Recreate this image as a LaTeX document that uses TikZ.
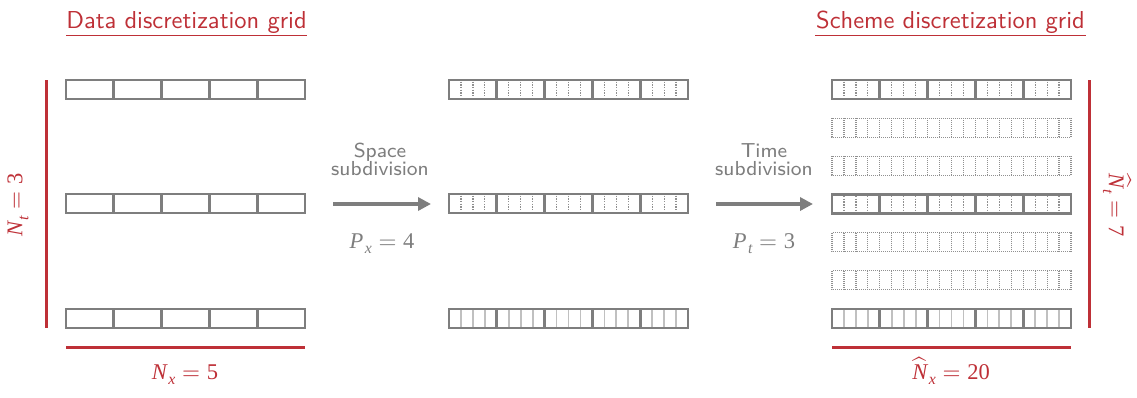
\documentclass[tikz,border=0pt]{standalone}
\usepackage{fontspec}
\newfontfamily\tnr{Liberation Serif}
\usetikzlibrary{arrows.meta}
\definecolor{dred}{HTML}{BE3037}
\definecolor{fgray}{HTML}{7E7E7E}
\definecolor{dgray}{HTML}{909090}
\definecolor{lgray}{HTML}{C0C0C0}
\newcommand\sx[1]{\scalebox{2.5}{#1}}
\newcommand\mv[2]{{\tnr\itshape #1}\kern0.6pt\raisebox{-0.6ex}{\fontsize{6.3}{7}\selectfont\tnr\itshape #2}}
\newcommand\meq[1]{\kern2.7pt$=$\kern2.7pt{\tnr #1}}
\tikzset{
  frame/.style={draw=fgray,line width=2.7pt},
  subdot/.style={draw=dgray,line width=1.2pt,dash pattern=on 1.4pt off 1.3pt},
  subsolid/.style={draw=lgray,line width=1.7pt},
  alldot/.style={draw=dgray,line width=1.2pt,dash pattern=on 1pt off 1pt},
  redline/.style={draw=dred,line width=3pt},
  titletxt/.style={text=dred,font=\sffamily\fontsize{9.8}{12}\selectfont,anchor=base,inner sep=0pt},
  graytxt/.style={text=fgray,font=\sffamily\fontsize{8.1}{9}\selectfont,anchor=base,inner sep=0pt},
  mathred/.style={text=dred,font=\fontsize{9}{10}\selectfont,inner sep=0pt},
  mathgray/.style={text=fgray,font=\fontsize{9}{10}\selectfont,inner sep=0pt,anchor=base},
  bigarrow/.style={draw=fgray,line width=4pt,-{Triangle[length=13pt,width=13pt]}}
}
% plain row: #1 = left x, #2 = top y
\newcommand\rowA[2]{%
  \draw[frame] (#1,-#2) rectangle ++(239,-19);
  \foreach \i in {1,...,4} \draw[frame] ({#1+47.8*\i},-#2) -- ++(0,-19);}
\newcommand\rowB[2]{%
  \foreach \j in {1,2,3,5,6,7,9,10,11,13,14,15,17,18,19}
    \draw[subdot] ({#1+11.95*\j},{-#2-1.5}) -- ++(0,-16);
  \rowA{#1}{#2}}
\newcommand\rowC[2]{%
  \foreach \j in {1,2,3,5,6,7,9,10,11,13,14,15,17,18,19}
    \draw[subsolid] ({#1+11.95*\j},-#2) -- ++(0,-19);
  \rowA{#1}{#2}}
\newcommand\rowD[2]{%
  \draw[alldot] (#1,-#2) rectangle ++(239,-19);
  \foreach \j in {1,...,19}
    \draw[alldot] ({#1+11.95*\j},-#2) -- ++(0,-19);}
\begin{document}
\begin{tikzpicture}[x=1pt,y=1pt]
\useasboundingbox (0,0) rectangle (1137,-397);
% titles
\node[titletxt] (t1) at (186.5,-28) {\sx{Data discretization grid}};
\draw[dred,line width=1.5pt] (66,-35.5) -- (307,-35.5);
\node[titletxt] (t2) at (950.5,-28) {\sx{Scheme discretization grid}};
\draw[dred,line width=1.5pt] (815,-35.5) -- (1086,-35.5);
% left grid
\rowA{66}{80}
\rowA{66}{194}
\rowA{66}{309}
% middle grid
\rowB{449}{80}
\rowB{449}{194}
\rowC{449}{309}
% right grid
\rowB{832}{80}
\rowD{832}{118.2}
\rowD{832}{156.3}
\rowB{832}{194.5}
\rowD{832}{232.7}
\rowD{832}{270.8}
\rowC{832}{309}
% red measure lines
\draw[redline] (46,-80) -- (46,-328);
\draw[redline] (66,-347.5) -- (305,-347.5);
\draw[redline] (1089,-80) -- (1089,-328);
\draw[redline] (832,-347.5) -- (1071,-347.5);
% red labels
\node[mathred,rotate=90] (nt) at (18,-205) {\sx{\mv{N}{t}\meq{3}}};
\node[mathred,anchor=base] (nx) at (185,-379) {\sx{\mv{N}{x}\meq{5}}};
\node[mathred,anchor=base] (nhx) at (951,-379) {\sx{\mv{$\widehat{\hbox{\tnr\itshape N}}$}{x}\meq{20}}};
\node[mathred,rotate=-90] (nht) at (1117,-205) {\sx{\mv{$\widehat{\hbox{\tnr\itshape N}}$}{t}\meq{7}}};
% arrows
\coordinate (a1s) at (333,-204);
\coordinate (a1e) at (431,-204);
\coordinate (a2s) at (716,-204);
\coordinate (a2e) at (813,-204);
\draw[bigarrow] (a1s) -- (a1e);
\draw[bigarrow] (a2s) -- (a2e);
\node[graytxt] (s1) at (380,-157) {\sx{Space}};
\node[graytxt] (s2) at (380,-175) {\sx{subdivision}};
\node[graytxt] (s3) at (764,-157) {\sx{Time}};
\node[graytxt] (s4) at (764,-175) {\sx{subdivision}};
\node[mathgray] (px) at (382,-248) {\sx{\mv{P}{x}\meq{4}}};
\node[mathgray] (pt) at (764,-248) {\sx{\mv{P}{t}\meq{3}}};
\end{tikzpicture}
\end{document}
